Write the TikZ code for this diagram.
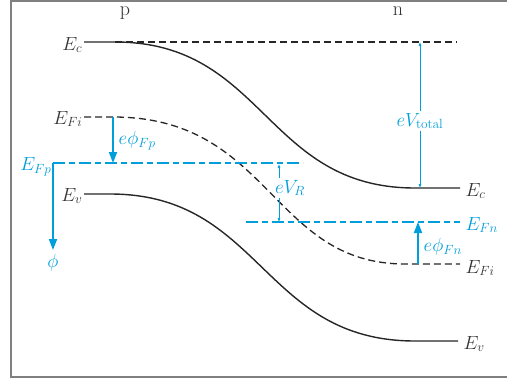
\documentclass[tikz,border=0pt]{standalone}
\usepackage{fix-cm}
\usepackage{amsmath}
\usepackage{tikz}
\usetikzlibrary{
    arrows.meta,
    positioning
}
\definecolor{bandblue}{RGB}{0,158,219}

\begin{document}
\begin{tikzpicture}[x=1pt,y=-1pt,
    band/.style={line width=1.4pt,black!85},
    dashband/.style={line width=1.3pt,black!85,dash pattern=on 7pt off 4pt},
    fermi/.style={line width=1.6pt,bandblue,dash pattern=on 12pt off 4pt on 6pt off 4pt},
    lbl/.style={font=\fontsize{19}{21}\selectfont,black!80,inner sep=1.5pt},
    blbl/.style={font=\fontsize{19}{21}\selectfont,bandblue,inner sep=1.5pt},
    bigarrow/.style={line width=1.8pt,bandblue,-{Triangle[length=11pt,width=8pt]}},
    thinarrow/.style={line width=0.6pt,bandblue,-{Latex[length=4pt,width=3pt]}}]

\useasboundingbox (0,0) rectangle (507,381);

% frame
\draw[gray,line width=1.5pt] (507,0.75) -- (11,0.75) -- (11,377) -- (507,377);

% sides
\node[font=\fontsize{20}{22}\selectfont,black!80] (pside) at (125,13) {p};
\node[font=\fontsize{20}{22}\selectfont,black!80] (nside) at (398,11) {n};

% E_c
\coordinate (ec0) at (84,42);
\coordinate (ec1) at (115,42);
\coordinate (ec2) at (415,188);
\coordinate (ec3) at (460,188);
\coordinate (ecd) at (457,42);
\draw[band] (ec0) -- (ec1) .. controls (265,42) and (265,188) .. (ec2) -- (ec3);
\draw[dashband] (ec1) -- (ecd);
\node[lbl,left] (EcL) at ([yshift=-3pt]ec0) {$E_c$};
\node[lbl,right] (EcR) at ([xshift=4pt,yshift=-3pt]ec3) {$E_c$};

% E_Fi
\coordinate (efi0) at (84,117);
\coordinate (efi1) at (113,117);
\coordinate (efi2) at (405,264);
\coordinate (efi3) at (460,264);
\draw[dashband] (efi0) -- (efi1) .. controls (271,117) and (271,264) .. (efi2) -- (efi3);
\node[lbl,left] (EfiL) at ([yshift=-2pt]efi0) {$E_{Fi}$};
\node[lbl,right] (EfiR) at ([xshift=4pt,yshift=-4pt]efi3) {$E_{Fi}$};

% E_v
\coordinate (ev0) at (84,194);
\coordinate (ev1) at (110,194);
\coordinate (ev2) at (415,341);
\coordinate (ev3) at (458,341);
\draw[band] (ev0) -- (ev1) .. controls (262,194) and (262,341) .. (ev2) -- (ev3);
\node[lbl,left] (EvL) at ([yshift=-2pt]ev0) {$E_v$};
\node[lbl,right] (EvR) at ([xshift=4pt,yshift=-3pt]ev3) {$E_v$};

% E_Fp
\coordinate (efp0) at (53,163);
\coordinate (efp1) at (303,163);
\coordinate (efpa) at (113,163);
\draw[fermi] (efp0) -- (efp1);
\node[blbl,left] (EfpL) at ([yshift=-4pt]efp0) {$E_{Fp}$};

% E_Fn
\coordinate (efn0) at (246,222);
\coordinate (efn1) at (460,222);
\coordinate (efna) at (418,222);
\coordinate (efia) at (418,264);
\draw[fermi] (efn0) -- (efn1);
\node[blbl,right] (EfnR) at ([xshift=4pt,yshift=-3pt]efn1) {$E_{Fn}$};

% phi
\coordinate (phia) at (53,250);
\node[blbl,below=3pt of phia] (phi) {$\phi$};
\draw[bigarrow] (efp0) -- (phia);

% e phi_Fp, e phi_Fn
\draw[bigarrow] (efi1) -- (efpa);
\node[blbl,right] (ephiFp) at (117,141) {$e\phi_{Fp}$};
\draw[bigarrow] (efia) -- (efna);
\node[blbl,right] (ephiFn) at (422,247) {$e\phi_{Fn}$};

% eV_total
\node[blbl] (Vtot) at (420,121) {$eV_{\mathrm{total}}$};
\coordinate (vt0) at (420,42);
\coordinate (vt1) at (420,188);
\draw[thinarrow] (Vtot.north -| vt0) -- (vt0);
\draw[thinarrow] (Vtot.south -| vt1) -- (vt1);

% eV_R
\node[blbl] (VR) at (290,188) {$eV_R$};
\coordinate (vr0) at (279,164);
\coordinate (vr1) at (279,222);
\draw[thinarrow] (VR.north -| vr0) -- (vr0);
\draw[thinarrow] (VR.south -| vr1) -- (vr1);

\end{tikzpicture}
\end{document}
